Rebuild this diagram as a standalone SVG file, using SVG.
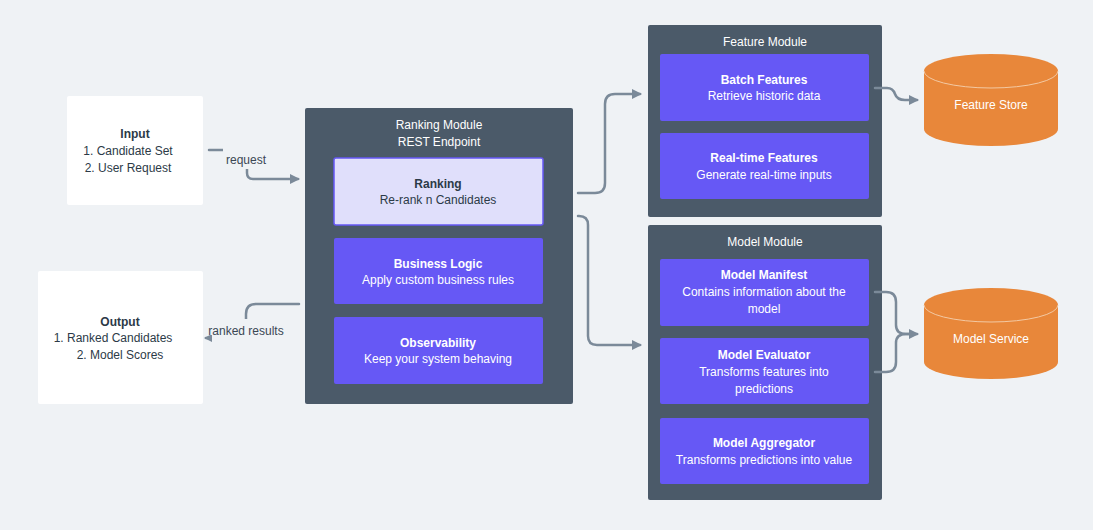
<svg xmlns="http://www.w3.org/2000/svg" width="1093" height="530" viewBox="0 0 1093 530">
<defs>
<style>
text{font-family:"Liberation Sans",Arial,sans-serif;font-size:12px;text-anchor:middle}
.b{font-weight:bold}
.dk{fill:#2c3a47}
.wt{fill:#ffffff}
.lbl{fill:#3b4754}
.card{fill:#ffffff}
.mod{fill:#4b5a69}
.inner{fill:#6658f5}
.sel{fill:#e0dffb;stroke:#6658f5;stroke-width:1.5}
.cyl{fill:#e8873a}
.edge{fill:none;stroke:#7b8a99;stroke-width:2.5;stroke-linecap:round;stroke-linejoin:round}
.lblbg{fill:#eff2f5}
</style>
<marker id="arr" viewBox="0 0 10 10" refX="8" refY="5" markerWidth="4" markerHeight="4" orient="auto" markerUnits="strokeWidth">
<path d="M0,0 L10,5 L0,10 z" fill="#7b8a99"/>
</marker>
</defs>
<rect width="1093" height="530" fill="#eff2f5"/>

<g id="input">
<rect class="card" x="67" y="96" width="136" height="109" rx="2"/>
<text class="b dk" x="135" y="138">Input</text>
<text class="dk" x="128" y="155">1.  Candidate Set</text>
<text class="dk" x="128" y="172">2.  User Request</text>
</g>

<g id="output">
<rect class="card" x="38" y="271" width="165" height="133" rx="2"/>
<text class="b dk" x="120" y="326">Output</text>
<text class="dk" x="113" y="342">1.  Ranked Candidates</text>
<text class="dk" x="120" y="359">2.  Model Scores</text>
</g>

<g id="ranking-module">
<rect class="mod" x="305" y="108" width="268" height="296" rx="2"/>
<text class="wt" x="439" y="129">Ranking Module</text>
<text class="wt" x="439" y="146">REST Endpoint</text>
</g>
<g id="ranking">
<rect class="sel" x="334" y="158" width="209" height="67" rx="2"/>
<text class="b dk" x="438" y="188">Ranking</text>
<text class="dk" x="438" y="204">Re-rank n Candidates</text>
</g>
<g id="business-logic">
<rect class="inner" x="334" y="238" width="209" height="66" rx="2"/>
<text class="b wt" x="438" y="268">Business Logic</text>
<text class="wt" x="438" y="284">Apply custom business rules</text>
</g>
<g id="observability">
<rect class="inner" x="334" y="317" width="209" height="67" rx="2"/>
<text class="b wt" x="438" y="347">Observability</text>
<text class="wt" x="438" y="363">Keep your system behaving</text>
</g>

<g id="feature-module">
<rect class="mod" x="648" y="25" width="234" height="192" rx="2"/>
<text class="wt" x="765" y="46">Feature Module</text>
</g>
<g id="batch-features">
<rect class="inner" x="660" y="54" width="209" height="67" rx="2"/>
<text class="b wt" x="764" y="84">Batch Features</text>
<text class="wt" x="764" y="100">Retrieve historic data</text>
</g>
<g id="realtime-features">
<rect class="inner" x="660" y="133" width="209" height="66" rx="2"/>
<text class="b wt" x="764" y="162">Real-time Features</text>
<text class="wt" x="764" y="179">Generate real-time inputs</text>
</g>

<g id="model-module">
<rect class="mod" x="648" y="225" width="234" height="275" rx="2"/>
<text class="wt" x="765" y="246">Model Module</text>
</g>
<g id="model-manifest">
<rect class="inner" x="660" y="259" width="209" height="67" rx="2"/>
<text class="b wt" x="764" y="279">Model Manifest</text>
<text class="wt" x="764" y="296">Contains information about the</text>
<text class="wt" x="764" y="313">model</text>
</g>
<g id="model-evaluator">
<rect class="inner" x="660" y="338" width="209" height="66" rx="2"/>
<text class="b wt" x="764" y="359">Model Evaluator</text>
<text class="wt" x="764" y="376">Transforms features into</text>
<text class="wt" x="764" y="393">predictions</text>
</g>
<g id="model-aggregator">
<rect class="inner" x="660" y="418" width="209" height="66" rx="2"/>
<text class="b wt" x="764" y="447">Model Aggregator</text>
<text class="wt" x="764" y="464">Transforms predictions into value</text>
</g>

<g id="feature-store">
<path class="cyl" d="M924,71 A67,17 0 0 1 1058,71 L1058,129 A67,17 0 0 1 924,129 Z"/>
<path d="M924,71 A67,17 0 0 0 1058,71" fill="none" stroke="#f3c9a3" stroke-width="1"/>
<text class="wt" x="991" y="109">Feature Store</text>
</g>
<g id="model-service">
<path class="cyl" d="M924,305 A67,17 0 0 1 1058,305 L1058,362 A67,17 0 0 1 924,362 Z"/>
<path d="M924,305 A67,17 0 0 0 1058,305" fill="none" stroke="#f3c9a3" stroke-width="1"/>
<text class="wt" x="991" y="343">Model Service</text>
</g>

<g id="connectors">
<path class="edge" marker-end="url(#arr)" d="M209,150 L241,150 Q247,150 247,156 L247,173 Q247,179 253,179 L298,179"/>
<rect class="lblbg" x="223" y="147" width="47" height="22"/>
<text class="lbl" x="246" y="164">request</text>

<path class="edge" marker-end="url(#arr)" d="M299,304 L256,304 Q246,304 246,314 L246,328 Q246,338 236,338 L206,338"/>
<rect class="lblbg" x="212" y="319" width="76" height="25"/>
<rect class="lblbg" x="207" y="319" width="6" height="16"/>
<text class="lbl" x="246" y="335">ranked results</text>

<path class="edge" marker-end="url(#arr)" d="M578,193 L595,193 Q605,193 605,183 L605,104 Q605,94 615,94 L640,94"/>
<path class="edge" marker-end="url(#arr)" d="M578,216 L579,216 Q588,216 588,225 L588,336 Q588,345 597,345 L640,345"/>
<path class="edge" marker-end="url(#arr)" d="M875,88 L887,88 Q893,88 895,94 Q897,100 905,100 L917,100"/>
<path class="edge" marker-end="url(#arr)" d="M875,292 L886,292 Q896,292 896,302 L896,325 Q896,334 906,334 L917,334"/>
<path class="edge" d="M875,372 L886,372 Q896,372 896,362 L896,343 Q896,334 906,334 L912,334"/>
</g>
</svg>
